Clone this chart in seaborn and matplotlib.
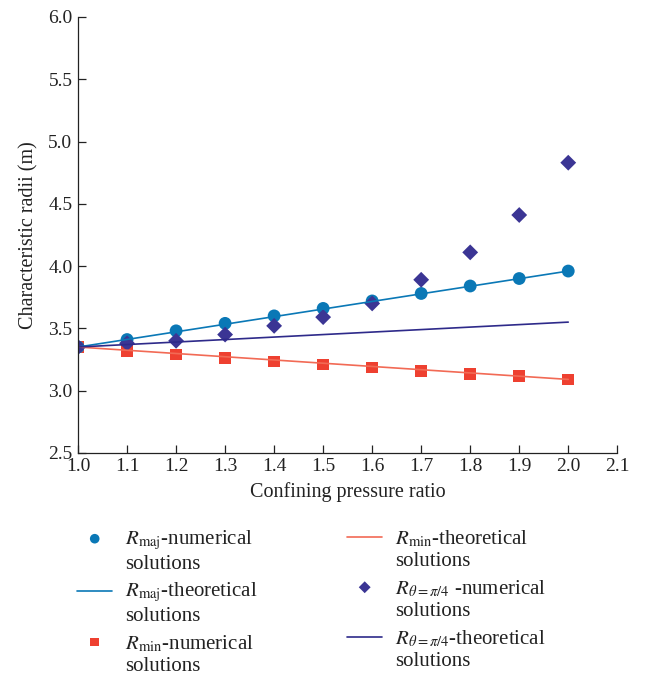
import numpy as np
import pandas as pd
import matplotlib
matplotlib.use("Agg")
import matplotlib.pyplot as plt
import seaborn as sns
from matplotlib.legend_handler import HandlerLine2D, HandlerPathCollection

ratio = [1.0, 1.1, 1.2, 1.3, 1.4, 1.5, 1.6, 1.7, 1.8, 1.9, 2.0]
rmaj_num = [3.35, 3.41, 3.48, 3.54, 3.60, 3.66, 3.72, 3.78, 3.84, 3.90, 3.96]
rmin_num = [3.35, 3.32, 3.29, 3.26, 3.235, 3.21, 3.185, 3.16, 3.135, 3.115, 3.09]
rth_num = [3.35, 3.38, 3.40, 3.45, 3.52, 3.59, 3.70, 3.89, 4.11, 4.41, 4.83]
theo_x = [1.0, 2.0]
rmaj_theo = [3.35, 3.96]
rmin_theo = [3.35, 3.09]
rth_theo = [3.35, 3.55]

sns.set_style("ticks")
plt.rcParams['font.family'] = ['Liberation Serif', 'DejaVu Serif']
plt.rcParams['mathtext.fontset'] = 'stix'

c_maj = "#0a78b6"
c_min_pt = "#ee4030"
c_min_ln = "#f26a55"
c_th_pt = "#3b3594"
c_th_ln = "#2e2a8a"
c_txt = '#222222'

fig = plt.figure(figsize=(6.45, 6.79), dpi=100)
ax = fig.add_axes([0.121, 0.333, 0.836, 0.642])

lab_maj_n = "$R_{\\mathrm{maj}}$-numerical\nsolutions"
lab_maj_t = "$R_{\\mathrm{maj}}$-theoretical\nsolutions"
lab_min_n = "$R_{\\mathrm{min}}$-numerical\nsolutions"
lab_min_t = "$R_{\\mathrm{min}}$-theoretical\nsolutions"
lab_th_n = "$R_{\\theta=\\pi/4}$ -numerical\nsolutions"
lab_th_t = "$R_{\\theta=\\pi/4}$-theoretical\nsolutions"

sns.lineplot(x=theo_x, y=rmaj_theo, ax=ax, color=c_maj, lw=1.2, label=lab_maj_t)
sns.lineplot(x=theo_x, y=rmin_theo, ax=ax, color=c_min_ln, lw=1.2, label=lab_min_t)
sns.lineplot(x=theo_x, y=rth_theo, ax=ax, color=c_th_ln, lw=1.2, label=lab_th_t)
sns.scatterplot(x=ratio, y=rmin_num, ax=ax, color=c_min_pt, marker='s', s=70, edgecolor='none', label=lab_min_n)
sns.scatterplot(x=ratio, y=rmaj_num, ax=ax, color=c_maj, marker='o', s=85, edgecolor='none', label=lab_maj_n)
sns.scatterplot(x=ratio, y=rth_num, ax=ax, color=c_th_pt, marker='D', s=65, edgecolor='none', label=lab_th_n)

ax.set_xlim(1.0, 2.1)
ax.set_ylim(2.5, 6.0)
xt = np.arange(1.0, 2.11, 0.1)
yt = np.arange(2.5, 6.01, 0.5)
ax.set_xticks(xt)
ax.set_yticks(yt)
ax.set_xticklabels([f"{v:.1f}" for v in xt])
ax.set_yticklabels([f"{v:.1f}" for v in yt])
ax.tick_params(axis='both', labelsize=14, direction='in', length=6, width=0.9, colors=c_txt, pad=4)
for s in ['left', 'bottom']:
    ax.spines[s].set_color(c_txt)
    ax.spines[s].set_linewidth(0.9)
sns.despine(ax=ax)
ax.set_xlabel("Confining pressure ratio", fontsize=14.5, color=c_txt, labelpad=5)
ax.set_ylabel("Characteristic radii (m)", fontsize=14.5, color=c_txt, labelpad=7)

SHIFT = 9.0  # points upward: align handle with first text line


class UpLine(HandlerLine2D):
    def create_artists(self, legend, orig_handle, xdescent, ydescent, width, height, fontsize, trans):
        return super().create_artists(legend, orig_handle, xdescent, ydescent - 2 * SHIFT,
                                      width, height, fontsize, trans)


FS = 15
hh = 0.7 * FS
up_scatter = HandlerPathCollection(yoffsets=[(hh / 2 + SHIFT) / hh])

handles, labels = ax.get_legend_handles_labels()
hd = dict(zip(labels, handles))
ax.get_legend().remove()

hmap = {}
for l, h in hd.items():
    hmap[h] = up_scatter if "numerical" in l else UpLine()

col1 = [lab_maj_n, lab_maj_t, lab_min_n]
col2 = [lab_min_t, lab_th_n, lab_th_t]
common = dict(frameon=False, loc='upper left', fontsize=FS, handlelength=1.7,
              handletextpad=0.6, labelspacing=0.35, borderpad=0, borderaxespad=0,
              labelcolor=c_txt, handler_map=hmap, scatterpoints=1, markerscale=0.75)
leg1 = fig.legend([hd[l] for l in col1], col1, bbox_to_anchor=(77 / 645, 1 - 529 / 679), **common)
leg2 = fig.legend([hd[l] for l in col2], col2, bbox_to_anchor=(347 / 645, 1 - 529 / 679), **common)

fig.savefig("out.png", dpi=100)
